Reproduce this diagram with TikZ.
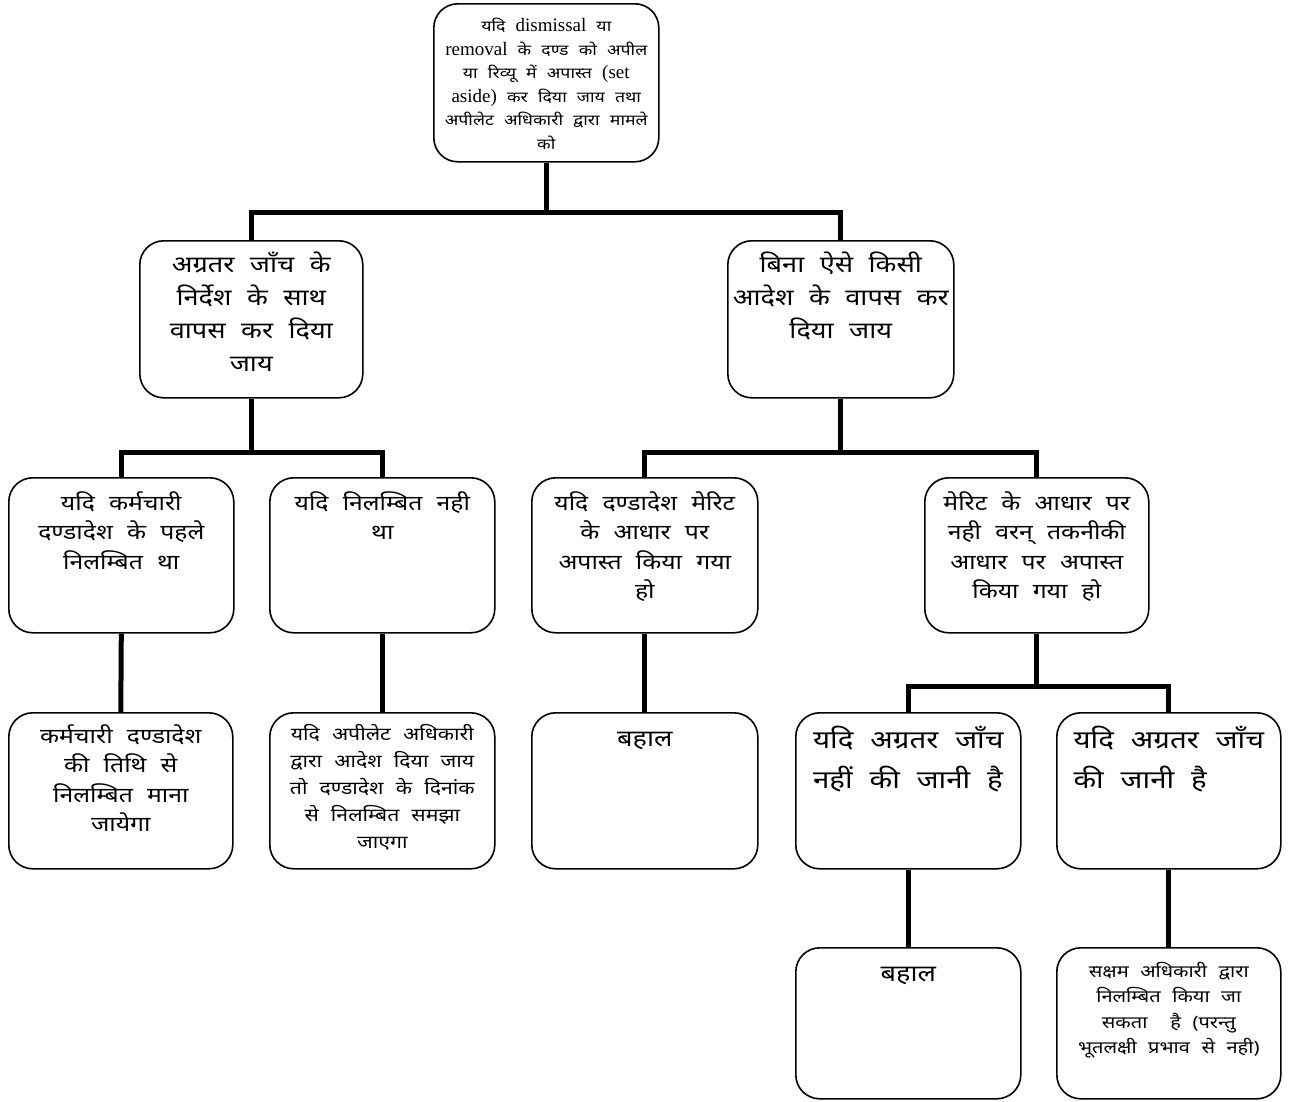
\documentclass[tikz,border=0pt]{standalone}
\usepackage{fontspec}
\setmainfont{Noto Sans}[Script=Devanagari, FakeStretch=1.18, WordSpace=2.2]
\newfontfamily\latf{Liberation Serif}
\begin{document}
\begin{tikzpicture}[x=1pt,y=-1pt,
  box/.style={draw, line width=1.6pt, rounded corners=24pt, inner sep=0pt, anchor=north west},
  txt/.style={anchor=north, inner sep=0pt, align=center},
  conn/.style={line width=5pt, line join=miter},
]
\useasboundingbox (0,0) rectangle (1298,1101);
\fill[white] (0,0) rectangle (1298,1101);
% boxes
\node[box, minimum width=225pt, minimum height=158pt] (top) at (433,3) {};
\node[box, minimum width=223pt, minimum height=157pt] (a) at (139,240) {};
\node[box, minimum width=226pt, minimum height=157pt] (b) at (727,240) {};
\node[box, minimum width=225pt, minimum height=155pt] (aa) at (8,477) {};
\node[box, minimum width=225pt, minimum height=155pt] (ab) at (269,477) {};
\node[box, minimum width=226pt, minimum height=155pt] (ba) at (531,477) {};
\node[box, minimum width=224pt, minimum height=155pt] (bb) at (924,477) {};
\node[box, minimum width=224pt, minimum height=156pt] (aaa) at (8,712) {};
\node[box, minimum width=225pt, minimum height=156pt] (aba) at (269,712) {};
\node[box, minimum width=226pt, minimum height=156pt] (baa) at (531,712) {};
\node[box, minimum width=225pt, minimum height=156pt] (bba) at (795,712) {};
\node[box, minimum width=224pt, minimum height=156pt] (bbb) at (1056,712) {};
\node[box, minimum width=225pt, minimum height=151pt] (bbaa) at (795,947) {};
\node[box, minimum width=224pt, minimum height=151pt] (bbba) at (1056,947) {};
% texts
\node[txt, font=\fontsize{15}{23.5}\selectfont] (toptx) at ([yshift=-15pt]top.north)
 {यदि {\latf\fontsize{19}{23.5}\selectfont dismissal} या\\
  {\latf\fontsize{19}{23.5}\selectfont removal} के दण्ड को अपील\\
  या रिव्यू में अपास्त {\latf\fontsize{19}{23.5}\selectfont (set}\\
  {\latf\fontsize{19}{23.5}\selectfont aside)} कर दिया जाय तथा\\
  अपीलेट अधिकारी द्वारा मामले\\
  को};
\node[txt, font=\fontsize{23}{33}\selectfont] (atx) at ([yshift=-12pt]a.north)
 {अग्रतर जाँच के\\ निर्देश के साथ\\ वापस कर दिया\\ जाय};
\node[txt, font=\fontsize{23}{33}\selectfont] (btx) at ([yshift=-12pt]b.north)
 {बिना ऐसे किसी\\ आदेश के वापस कर\\ दिया जाय};
\node[txt, font=\fontsize{21}{29.5}\selectfont] (aatx) at ([yshift=-14pt]aa.north)
 {यदि कर्मचारी\\ दण्डादेश के पहले\\ निलम्बित था};
\node[txt, font=\fontsize{21}{29.5}\selectfont] (abtx) at ([yshift=-14pt]ab.north)
 {यदि निलम्बित नही\\ था};
\node[txt, font=\fontsize{21}{29.5}\selectfont] (batx) at ([yshift=-14pt]ba.north)
 {यदि दण्डादेश मेरिट\\ के आधार पर\\ अपास्त किया गया\\ हो};
\node[txt, font=\fontsize{21}{29.5}\selectfont] (bbtx) at ([yshift=-14pt]bb.north)
 {मेरिट के आधार पर\\ नही वरन् तकनीकी\\ आधार पर अपास्त\\ किया गया हो};
\node[txt, font=\fontsize{21}{29.5}\selectfont] (aaatx) at ([yshift=-12pt]aaa.north)
 {कर्मचारी दण्डादेश\\ की तिथि से\\ निलम्बित माना\\ जायेगा};
\node[txt, font=\fontsize{18}{27}\selectfont] (abatx) at ([yshift=-12pt]aba.north)
 {यदि अपीलेट अधिकारी\\ द्वारा आदेश दिया जाय\\ तो दण्डादेश के दिनांक\\ से निलम्बित समझा\\ जाएगा};
\node[txt, font=\fontsize{23}{33}\selectfont] (baatx) at ([yshift=-20pt]baa.north) {बहाल};
\node[txt, align=left, font=\fontsize{25}{40}\selectfont] (bbatx) at ([yshift=-14pt]bba.north)
 {यदि अग्रतर जाँच\\ नहीं की जानी है};
\node[txt, align=left, font=\fontsize{25}{40}\selectfont] (bbbtx) at ([yshift=-14pt]bbb.north)
 {यदि अग्रतर जाँच\\ की जानी है};
\node[txt, font=\fontsize{23}{33}\selectfont] (bbaatx) at ([yshift=-20pt]bbaa.north) {बहाल};
\node[txt, font=\fontsize{17}{25.5}\selectfont] (bbbatx) at ([yshift=-15pt]bbba.north)
 {सक्षम अधिकारी द्वारा\\ निलम्बित किया जा\\ सकता \ है (परन्तु\\ भूतलक्षी प्रभाव से नही)};
% connectors
\coordinate (j1) at (top.south |- 0,212);
\coordinate (j2) at (a.south |- 0,452);
\coordinate (j3) at (b.south |- 0,452);
\coordinate (j4) at (bb.south |- 0,686);
\draw[conn] (top.south) -- (j1);
\draw[conn] (a.north) |- (j1) -| (b.north);
\draw[conn] (a.south) -- (j2);
\draw[conn] (aa.north) |- (j2) -| (ab.north);
\draw[conn] (b.south) -- (j3);
\draw[conn] (ba.north) |- (j3) -| (bb.north);
\draw[conn] (bb.south) -- (j4);
\draw[conn] (bba.north) |- (j4) -| (bbb.north);
\draw[conn] (aa.south) -- (aaa.north);
\draw[conn] (ab.south) -- (aba.north);
\draw[conn] (ba.south) -- (baa.north);
\draw[conn] (bba.south) -- (bbaa.north);
\draw[conn] (bbb.south) -- (bbba.north);
\end{tikzpicture}
\end{document}
